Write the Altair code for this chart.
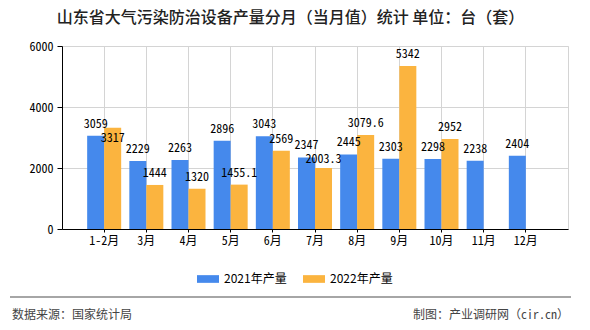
import altair as alt
import pandas as pd

months = ["1-2月", "3月", "4月", "5月", "6月", "7月", "8月", "9月", "10月", "11月", "12月"]
v2021 = [3059, 2229, 2263, 2896, 3043, 2347, 2445, 2303, 2298, 2238, 2404]
v2022 = [3317, 1444, 1320, 1455.1, 2569, 2003.3, 3079.6, 5342, 2952, None, None]
series = ["2021年产量", "2022年产量"]
colors = ["#4589ec", "#fbb43f"]
y_ticks = [0, 2000, 4000, 6000]

TITLE = "山东省大气污染防治设备产量分月（当月值）统计 单位：台（套）"
SOURCE = "数据来源：国家统计局"
CREDIT = "制图：产业调研网（cir.cn）"

W, H = 506, 183
Y_MAX = 6000
unit = Y_MAX / H  # data units per pixel

MONO = "Noto Sans Mono CJK SC, Liberation Mono, monospace"
SANS = "Noto Sans CJK SC, sans-serif"


def fmt(v):
    return f"{v:g}"


rows = []
for m, a, b in zip(months, v2021, v2022):
    rows.append(dict(month=m, series=series[0], value=a, label=fmt(a), label_at=a))
    if b is not None:
        at = b
        # simple label collision avoidance: push the 2022 label below the 2021 label
        if abs(b - a) / unit < 13:
            at = a - 14 * unit
        rows.append(dict(month=m, series=series[1], value=b, label=fmt(b), label_at=at))
df = pd.DataFrame(rows)

x_enc = alt.X(
    "month:N",
    sort=months,
    scale=alt.Scale(paddingInner=0, paddingOuter=0.5),
    axis=alt.Axis(
        title=None, labelAngle=0, domainColor="black", tickColor="black", tickSize=3,
        labelFont=MONO, labelFontSize=12, labelColor="black", labelPadding=3,
        grid=True, gridColor="#d4d4d4", bandPosition=0.5,
    ),
)
xo_enc = alt.XOffset("series:N", sort=series, scale=alt.Scale(paddingInner=0, paddingOuter=0.24))
color_enc = alt.Color(
    "series:N",
    sort=series,
    scale=alt.Scale(domain=series, range=colors),
    legend=alt.Legend(
        title=None, orient="none", legendX=135, legendY=222, direction="horizontal",
        symbolType="M-1,-0.35H1V0.35H-1Z", symbolSize=484, symbolStrokeWidth=0,
        symbolOpacity=1, labelFont=SANS, labelFontSize=12, labelColor="black",
        labelOffset=5, columnPadding=16,
    ),
)

base = alt.Chart(df)

bars = base.mark_bar(opacity=1).encode(
    x=x_enc,
    xOffset=xo_enc,
    y=alt.Y(
        "value:Q",
        scale=alt.Scale(domain=[0, Y_MAX], nice=False),
        axis=alt.Axis(
            values=y_ticks, format="d", title=None, domainColor="black", tickColor="black", tickSize=5,
            labelFont=MONO, labelFontSize=12, labelColor="black", labelPadding=4,
            grid=True, gridColor="#d4d4d4",
        ),
    ),
    color=color_enc,
)

labels = base.mark_text(dy=-12, baseline="middle", font=MONO, fontSize=12, color="black").encode(
    x=alt.X("month:N", sort=months),
    xOffset=alt.XOffset("series:N", sort=series),
    y=alt.Y("label_at:Q"),
    text="label:N",
)

one = alt.Chart(pd.DataFrame({"k": [0]}))
footer_line = one.mark_rule(color="#888888", strokeWidth=1.5).encode(
    x=alt.value(-52), x2=alt.value(509), y=alt.value(251)
)
footer_left = one.mark_text(align="left", baseline="middle", font=MONO, fontSize=12, color="#444444").encode(
    x=alt.value(-50), y=alt.value(269), text=alt.value(SOURCE)
)
footer_right = one.mark_text(align="right", baseline="middle", font=MONO, fontSize=12, color="#444444").encode(
    x=alt.value(507), y=alt.value(269), text=alt.value(CREDIT)
)

chart = (
    alt.layer(bars, labels, footer_line, footer_left, footer_right)
    .properties(
        width=W,
        height=H,
        autosize=alt.AutoSizeParams(type="none"),
        padding={"left": 62, "top": 46, "right": 22, "bottom": 101},
        title=alt.TitleParams(
            TITLE, anchor="middle", dx=-24.5, offset=14, font=SANS, fontSize=16,
            fontWeight=500, color="#222222",
        ),
        background="white",
    )
    .configure_view(stroke="#d4d4d4")
)

chart.save("out.html", embed_options={"renderer": "svg", "actions": False})
